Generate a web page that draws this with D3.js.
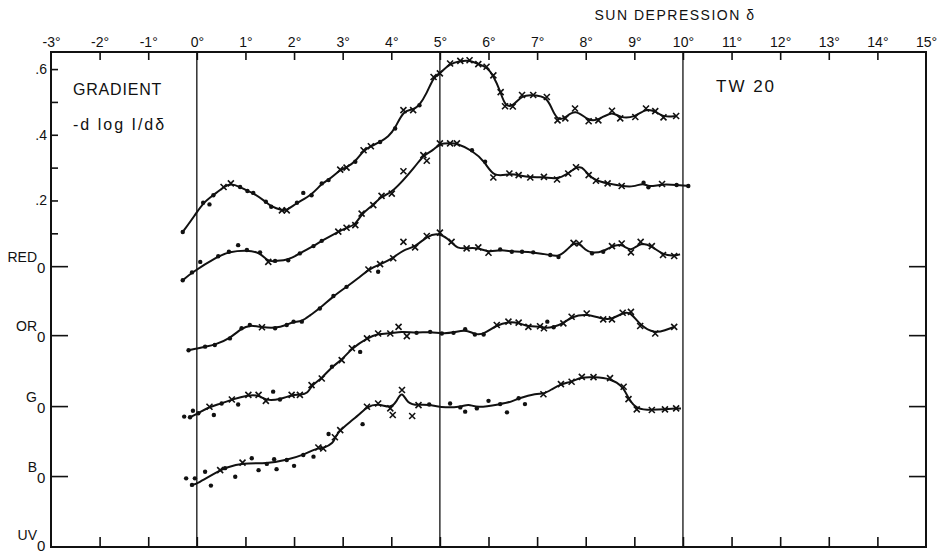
<!DOCTYPE html>
<html>
<head>
  <meta charset="UTF-8">
  <title>Gradient -dlog I/d&delta; TW 20</title>
  <script src="https://d3js.org/d3.v7.min.js"></script>
  <style>
    body {
      margin: 0;
      background: #fff;
      font-family: "Liberation Sans", Arial, sans-serif;
    }
    .frame {
      fill: none;
      stroke: #111;
      stroke-width: 2;
    }
    .tick line {
      stroke: #111;
      stroke-width: 1.6;
    }
    .tick text {
      font-size: 14px;
      fill: #111;
    }
    .grid-line {
      stroke: #111;
      stroke-width: 1.3;
    }
    .curve {
      fill: none;
      stroke: #111;
      stroke-width: 2;
      stroke-linejoin: round;
    }
    .mark-x {
      stroke: #111;
      stroke-width: 1.6;
    }
    .mark-dot {
      fill: #111;
    }
    .label {
      fill: #111;
    }
  </style>
</head>
<body>
  <div id="chart"></div>
  <script>
    // sun depression (deg) tick values and gradient ticks
    const degTicks = d3.range(-3, 16);
    const fullLines = [0, 5, 10];
    const gradTicks = [0.2, 0.4, 0.6];
    const gradMinor = [0.1, 0.3, 0.5];

    // colour channels, each curve drawn relative to its own zero line
    const channels = ["RED", "OR", "G", "B", "UV"];
    const channelOffsets = [0, -0.21, -0.426, -0.639, -0.855];

    // [depression, gradient, mark]  mark: "x" cross, "." dot, "" line only,
    // "o" dot off the curve, "X" cross off the curve
    const redPts = [
      [-0.29,0.104,"."],[-0.04,0.155,""],[0.13,0.193,"."],[0.26,0.188,"o"],[0.34,0.216,"."],
      [0.55,0.241,"x"],[0.70,0.252,"x"],[0.89,0.241,"."],[1.04,0.229,"."],[1.16,0.223,"."],
      [1.42,0.196,"."],[1.53,0.181,"."],[1.75,0.170,"x"],[1.85,0.170,"x"],[2.06,0.193,"."],
      [2.19,0.223,"o"],[2.36,0.216,"."],[2.57,0.252,"."],[2.71,0.262,"."],[2.95,0.294,"x"],
      [3.08,0.300,"x"],[3.26,0.318,"."],[3.43,0.353,"x"],[3.58,0.365,"x"],[3.77,0.378,"."],
      [3.94,0.394,""],[4.08,0.419,"."],[4.25,0.475,"x"],[4.45,0.475,"x"],[4.58,0.490,"."],
      [4.73,0.526,""],[4.87,0.576,"x"],[5.00,0.587,"x"],[5.21,0.617,"x"],[5.42,0.625,"x"],
      [5.61,0.627,"x"],[5.79,0.615,"x"],[5.96,0.607,"x"],[6.10,0.581,"x"],[6.25,0.530,"x"],
      [6.34,0.487,"x"],[6.50,0.486,"x"],[6.69,0.521,"x"],[6.92,0.521,"x"],[7.20,0.515,"x"],
      [7.30,0.480,""],[7.42,0.444,"x"],[7.58,0.450,"x"],[7.78,0.480,"x"],[8.06,0.441,"x"],
      [8.26,0.444,"x"],[8.54,0.473,"x"],[8.71,0.450,"x"],[9.02,0.454,"x"],[9.24,0.480,"x"],
      [9.43,0.472,"x"],[9.60,0.453,"x"],[9.86,0.457,"x"]
    ];
    const orPts = [
      [-0.29,0.167,"."],[-0.10,0.191,"."],[0.07,0.223,"o"],[0.44,0.240,"."],[0.66,0.254,"."],
      [0.85,0.274,"o"],[1.03,0.259,"."],[1.30,0.252,"."],[1.47,0.223,"x"],[1.61,0.226,"."],
      [1.88,0.228,"."],[2.12,0.249,"."],[2.40,0.271,"."],[2.57,0.287,"."],[2.91,0.315,"x"],
      [3.08,0.327,"x"],[3.26,0.335,"x"],[3.39,0.370,"x"],[3.63,0.396,"x"],[3.80,0.424,"x"],
      [4.01,0.431,"x"],[4.25,0.499,"X"],[4.52,0.518,""],[4.66,0.548,"x"],[4.73,0.531,"X"],
      [4.87,0.563,""],[5.00,0.584,"x"],[5.21,0.584,"x"],[5.35,0.584,"x"],[5.66,0.563,"."],
      [5.93,0.528,"."],[6.10,0.480,"x"],[6.43,0.492,"x"],[6.62,0.487,"x"],[6.86,0.480,"x"],
      [7.14,0.482,"x"],[7.41,0.474,"x"],[7.64,0.492,"x"],[7.80,0.511,"x"],[7.92,0.514,""],
      [8.06,0.487,"x"],[8.21,0.470,"x"],[8.45,0.462,"x"],[8.74,0.454,"x"],[8.98,0.451,""],
      [9.19,0.464,"."],[9.29,0.450,"."],[9.57,0.460,"x"],[9.87,0.457,"."],[10.11,0.454,"."]
    ];
    const gPts = [
      [-0.17,0.170,"."],[-0.04,0.174,""],[0.17,0.181,"."],[0.37,0.186,"."],[0.68,0.206,"."],
      [0.92,0.237,"."],[1.09,0.247,"."],[1.34,0.240,"x"],[1.61,0.237,"."],[1.85,0.247,"."],
      [1.99,0.257,"."],[2.16,0.257,"."],[2.33,0.277,""],[2.53,0.297,"."],[2.81,0.335,"."],
      [3.08,0.363,"."],[3.32,0.389,""],[3.53,0.416,"x"],[3.73,0.409,"o"],[3.77,0.432,"x"],
      [4.04,0.450,"x"],[4.25,0.477,""],[4.25,0.500,"X"],[4.49,0.483,"x"],[4.73,0.518,"x"],
      [5.00,0.528,"x"],[5.24,0.500,"x"],[5.35,0.480,""],[5.55,0.480,"x"],[5.79,0.483,"x"],
      [6.00,0.467,"x"],[6.24,0.477,"."],[6.48,0.470,"."],[6.69,0.470,"."],[6.92,0.468,"."],
      [7.27,0.460,"."],[7.44,0.454,"."],[7.61,0.475,""],[7.75,0.497,"x"],[7.87,0.495,"x"],
      [7.99,0.475,""],[8.13,0.465,"."],[8.36,0.470,"."],[8.54,0.487,"x"],[8.74,0.495,"x"],
      [8.93,0.468,"x"],[9.13,0.500,"x"],[9.36,0.487,"x"],[9.59,0.460,"x"],[9.82,0.457,"x"],
      [9.94,0.462,""]
    ];
    const bPts = [
      [-0.26,0.181,"o"],[-0.08,0.199,"o"],[-0.14,0.179,"."],[0.03,0.191,"."],[0.26,0.211,"x"],
      [0.35,0.186,"o"],[0.51,0.221,"."],[0.72,0.233,"x"],[0.85,0.218,"o"],[1.06,0.247,"x"],
      [1.27,0.247,"x"],[1.42,0.229,"x"],[1.57,0.257,"o"],[1.71,0.233,"."],[1.95,0.247,"x"],
      [2.12,0.247,"x"],[2.29,0.252,""],[2.36,0.277,"x"],[2.57,0.297,"x"],[2.78,0.333,"."],
      [2.98,0.353,"x"],[3.19,0.389,"x"],[3.36,0.378,"o"],[3.50,0.419,"x"],[3.73,0.434,"x"],
      [3.98,0.434,"x"],[4.15,0.454,"X"],[4.20,0.440,""],[4.32,0.426,"X"],[4.52,0.436,"."],
      [4.80,0.439,"."],[5.04,0.434,"."],[5.28,0.436,"."],[5.52,0.447,"."],[5.72,0.431,"."],
      [5.90,0.431,"."],[6.17,0.460,"x"],[6.41,0.470,"x"],[6.62,0.467,"x"],[6.82,0.454,"x"],
      [7.06,0.456,"x"],[7.14,0.450,"x"],[7.21,0.470,"o"],[7.34,0.453,"."],[7.54,0.465,"x"],
      [7.71,0.485,"x"],[8.02,0.495,"x"],[8.36,0.477,"x"],[8.54,0.477,"x"],[8.76,0.497,"x"],
      [8.93,0.500,"x"],[9.12,0.457,"x"],[9.43,0.434,"x"],[9.63,0.444,""],[9.82,0.454,"x"]
    ];
    const uvPts = [
      [-0.22,0.209,"o"],[-0.04,0.209,"o"],[-0.10,0.189,"."],[0.00,0.192,""],[0.17,0.229,"o"],
      [0.29,0.187,"o"],[0.48,0.234,"x"],[0.58,0.240,"."],[0.79,0.214,"o"],[0.94,0.257,"x"],
      [1.13,0.270,"o"],[1.27,0.234,"o"],[1.44,0.253,"."],[1.59,0.267,"o"],[1.64,0.237,"o"],
      [1.85,0.265,"."],[2.00,0.247,"o"],[2.19,0.280,"."],[2.40,0.275,"o"],[2.50,0.303,"x"],
      [2.60,0.300,"x"],[2.71,0.344,"o"],[2.81,0.316,""],[2.84,0.334,"x"],[2.95,0.356,"x"],
      [3.15,0.381,""],[3.41,0.374,"o"],[3.36,0.405,""],[3.50,0.427,"x"],[3.73,0.437,"x"],
      [3.98,0.422,"x"],[4.03,0.402,"X"],[4.10,0.440,""],[4.22,0.478,"x"],[4.33,0.435,""],
      [4.43,0.399,"X"],[4.56,0.432,"x"],[4.78,0.434,"."],[5.00,0.425,""],[5.21,0.437,"o"],
      [5.42,0.425,"."],[5.52,0.412,"o"],[5.59,0.437,""],[5.76,0.422,"."],[6.00,0.445,"o"],
      [6.24,0.435,"."],[6.38,0.410,"o"],[6.48,0.442,""],[6.62,0.453,"."],[6.75,0.435,"o"],
      [6.99,0.468,""],[7.13,0.465,"x"],[7.30,0.480,""],[7.49,0.496,"x"],[7.71,0.503,"x"],
      [7.92,0.518,"x"],[8.16,0.517,"x"],[8.50,0.514,"x"],[8.78,0.488,"x"],[8.88,0.450,"x"],
      [9.05,0.419,"x"],[9.36,0.417,"x"],[9.63,0.419,"x"],[9.86,0.422,"x"],[9.96,0.422,""]
    ];
    const series = [redPts, orPts, gPts, bPts, uvPts];

    const W = 947, H = 554;
    const margin = { top: 52, right: 21, bottom: 7, left: 51 };
    const width = W - margin.left - margin.right;
    const height = H - margin.top - margin.bottom;

    const x = d3.scaleLinear().domain([-3, 15]).range([0, width]);
    const y = d3.scaleLinear().domain([-0.855, 0.652]).range([height, 0]);

    const svg = d3.select("#chart").append("svg")
      .attr("width", W)
      .attr("height", H);

    const g = svg.append("g")
      .attr("transform", `translate(${margin.left},${margin.top})`);

    // top axis with labels, ticks pointing into the plot
    const inner = degTicks.filter(d => d > -3 && d < 15);
    g.append("g")
      .call(d3.axisTop(x).tickValues(degTicks).tickSize(0).tickPadding(5).tickFormat(d => d + "°"))
      .call(a => a.select(".domain").remove())
      .selectAll("text").style("font-size", "14px");
    g.append("g")
      .call(d3.axisTop(x).tickValues(inner).tickSize(-8).tickFormat(""))
      .call(a => a.select(".domain").remove());
    g.append("g")
      .attr("transform", `translate(0,${height})`)
      .call(d3.axisBottom(x).tickValues(inner).tickSize(-10).tickFormat(""))
      .call(a => a.select(".domain").remove());

    // left axis: gradient ticks for the RED curve and channel zero lines
    g.append("g")
      .call(d3.axisLeft(y).tickValues(gradTicks.concat(gradMinor)).tickSize(-7).tickFormat(""))
      .call(a => a.select(".domain").remove());
    g.append("g")
      .call(d3.axisLeft(y).tickValues(channelOffsets.slice(0, 4)).tickSize(-17).tickFormat(""))
      .call(a => a.select(".domain").remove());
    g.append("g")
      .attr("transform", `translate(${width},0)`)
      .call(d3.axisRight(y).tickValues(channelOffsets.slice(0, 4)).tickSize(-17).tickFormat(""))
      .call(a => a.select(".domain").remove());

    g.selectAll(".grad-label")
      .data(gradTicks)
      .enter().append("text")
      .attr("class", "label")
      .attr("x", -4)
      .attr("y", d => y(d) + 5)
      .attr("text-anchor", "end")
      .style("font-size", "14px")
      .text(d => d3.format(".1f")(d).replace(/^0/, ""));

    channels.forEach((c, i) => {
      const base = Math.min(y(channelOffsets[i]) + 7, height + 4);
      g.append("text")
        .attr("class", "label")
        .attr("x", -14)
        .attr("y", base - 11)
        .attr("text-anchor", "end")
        .style("font-size", "14px")
        .text(c);
      g.append("text")
        .attr("class", "label")
        .attr("x", -14)
        .attr("y", base)
        .style("font-size", "15px")
        .text("0");
    });

    // full vertical lines at 0, 5 and 10 deg
    g.selectAll(".grid-line")
      .data(fullLines)
      .enter().append("line")
      .attr("class", "grid-line")
      .attr("x1", d => x(d)).attr("x2", d => x(d))
      .attr("y1", 0).attr("y2", height);

    g.append("rect")
      .attr("class", "frame")
      .attr("width", width)
      .attr("height", height);

    // curves and their markers
    const line = d3.line()
      .curve(d3.curveBasis)
      .x(d => x(d.deg))
      .y(d => y(d.val + d.off));

    series.forEach((pts, i) => {
      const off = channelOffsets[i];
      const data = pts.map(p => ({ deg: p[0], val: p[1], mark: p[2], off: off }));
      const onLine = data.filter(d => d.mark !== "o" && d.mark !== "X")
        .sort((a, b) => a.deg - b.deg);

      g.append("path")
        .datum(onLine)
        .attr("class", "curve")
        .attr("d", line);

      const crosses = data.filter(d => d.mark === "x" || d.mark === "X");
      const s = 3;
      g.selectAll(null).data(crosses).enter().append("path")
        .attr("class", "mark-x")
        .attr("d", d => {
          const px = x(d.deg), py = y(d.val + d.off);
          return `M${px - s},${py - s}L${px + s},${py + s}M${px - s},${py + s}L${px + s},${py - s}`;
        });

      const dots = data.filter(d => d.mark === "." || d.mark === "o");
      g.selectAll(null).data(dots).enter().append("circle")
        .attr("class", "mark-dot")
        .attr("cx", d => x(d.deg))
        .attr("cy", d => y(d.val + d.off))
        .attr("r", 2.2);
    });

    // titles
    svg.append("text")
      .attr("class", "label")
      .attr("x", 675)
      .attr("y", 20)
      .attr("text-anchor", "middle")
      .style("font-size", "14px")
      .style("letter-spacing", "1.5px")
      .text("SUN DEPRESSION δ");

    svg.append("text")
      .attr("class", "label")
      .attr("x", 73)
      .attr("y", 95)
      .style("font-size", "16px")
      .style("letter-spacing", "0.8px")
      .text("GRADIENT");

    svg.append("text")
      .attr("class", "label")
      .attr("x", 73)
      .attr("y", 130)
      .style("font-size", "16px")
      .style("letter-spacing", "2px")
      .text("-d log I/dδ");

    svg.append("text")
      .attr("class", "label")
      .attr("x", 716)
      .attr("y", 92)
      .style("font-size", "17px")
      .style("letter-spacing", "2px")
      .text("TW 20");
  </script>
</body>
</html>
